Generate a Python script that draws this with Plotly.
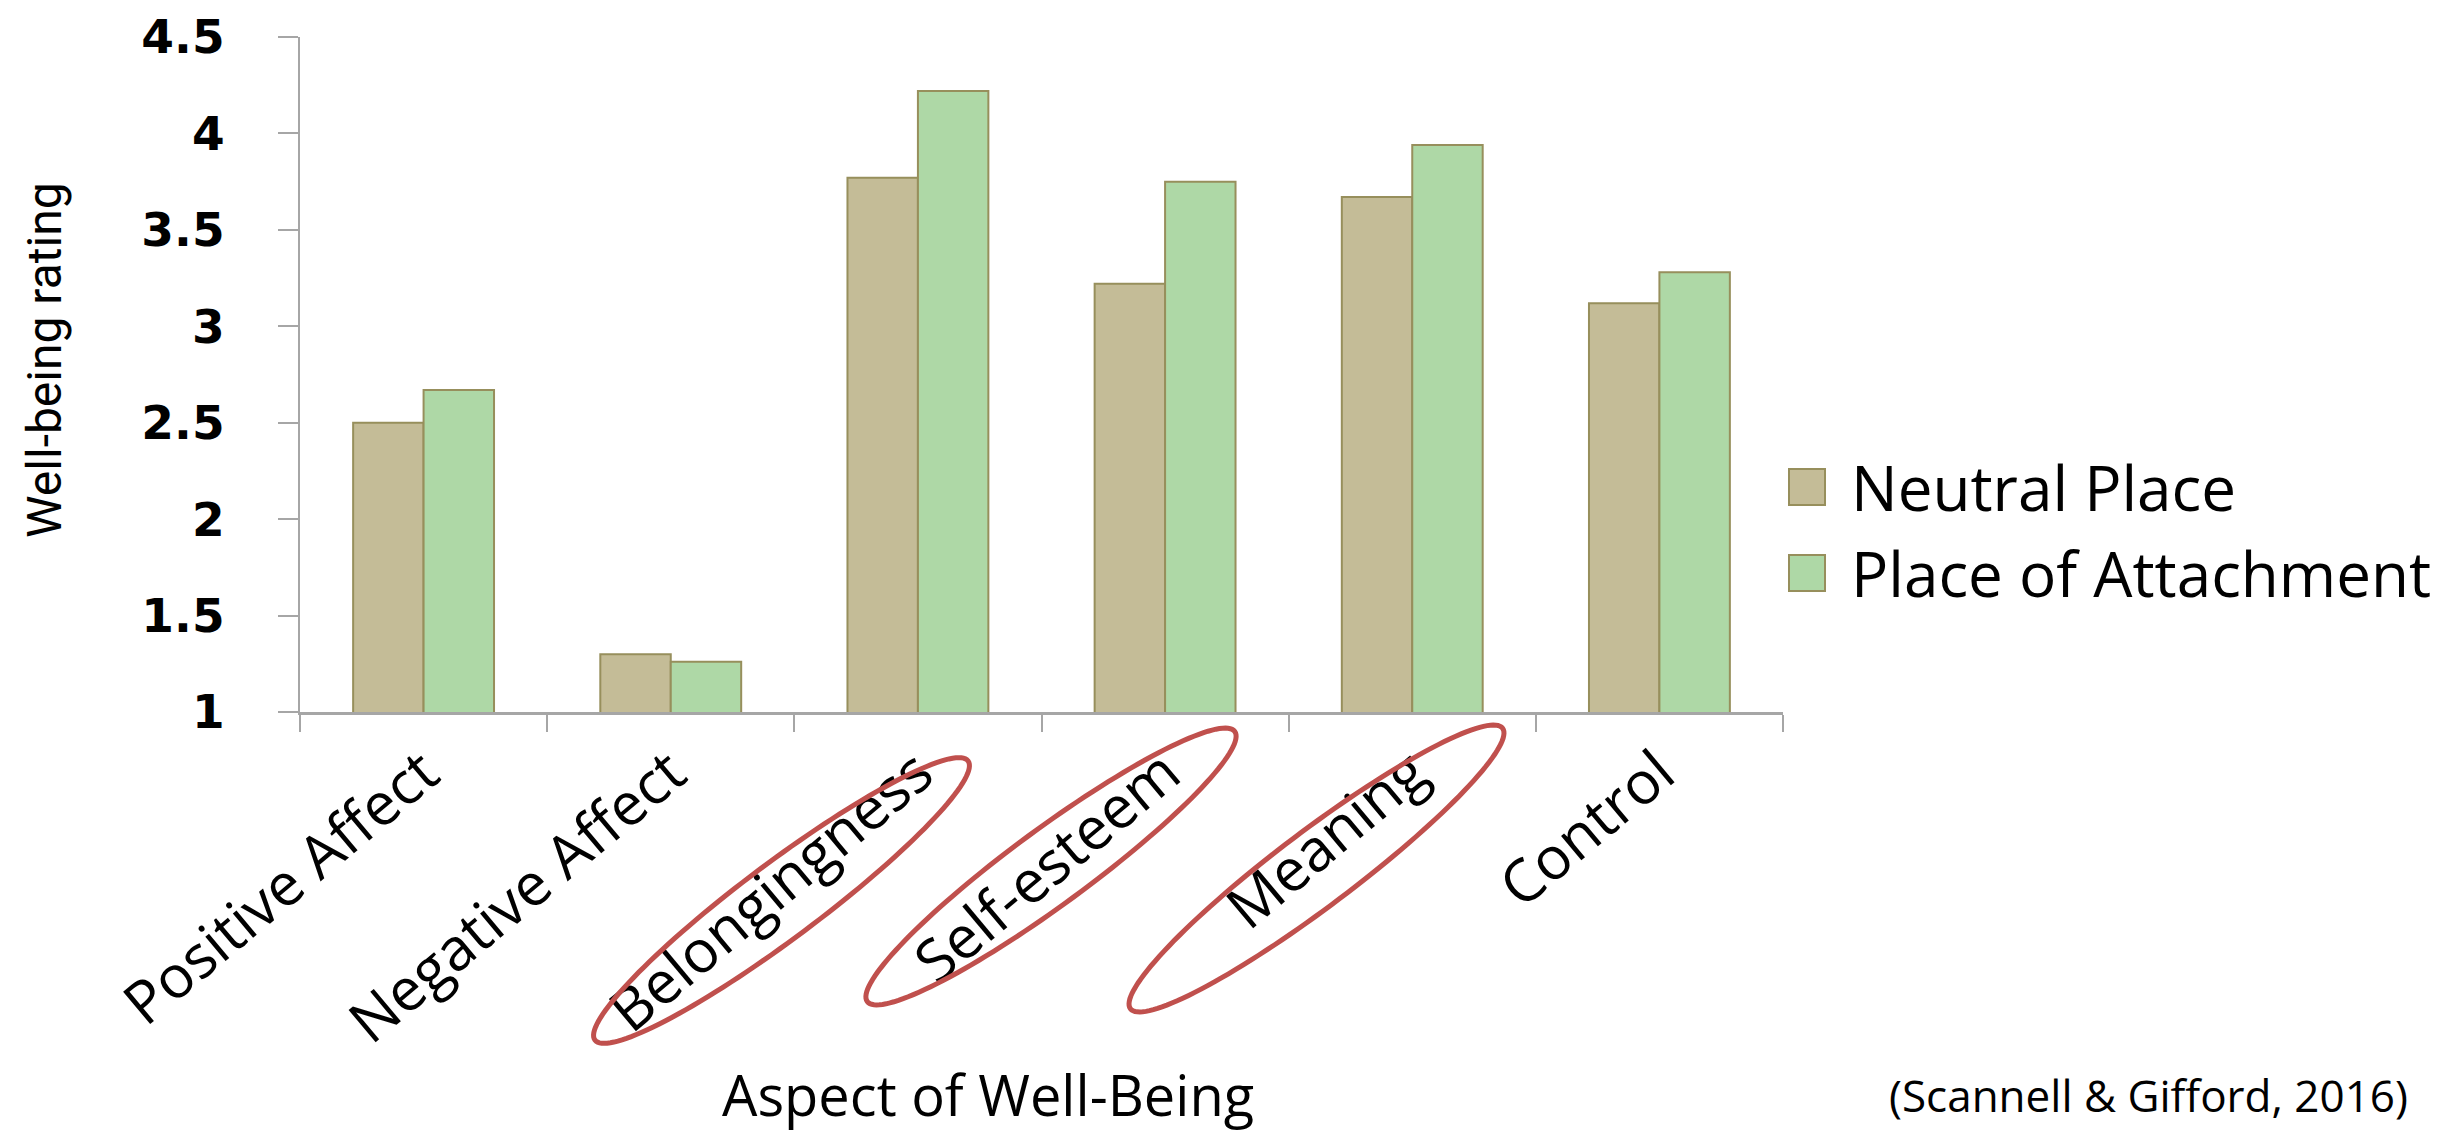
import numpy as np
import plotly.graph_objects as go

# ---------------- data ----------------
categories = ["Positive Affect", "Negative Affect", "Belongingness",
              "Self-esteem", "Meaning", "Control"]
neutral_place = [2.50, 1.30, 3.77, 3.22, 3.67, 3.12]
place_of_attachment = [2.67, 1.26, 4.22, 3.75, 3.94, 3.28]
series_names = ["Neutral Place", "Place of Attachment"]
y_tick_values = [1, 1.5, 2, 2.5, 3, 3.5, 4, 4.5]
highlighted = ["Belongingness", "Self-esteem", "Meaning"]

# ---------------- layout geometry ----------------
OFF = 8                      # page body margin of the html page
W, H = 2453 - OFF, 1131 - OFF
L, T = 300 - OFF, 37 - OFF
R = W - (1783 - OFF)
B = H - (712 - OFF)
PW, PH = W - L - R, H - T - B


def px(x):
    """screen x (reference pixels) -> paper"""
    return (x - OFF - L) / PW


def py(y):
    """screen y (reference pixels) -> paper"""
    return (H - B - (y - OFF)) / PH


NEUTRAL_FILL = "#C4BC97"
ATTACH_FILL = "#AED8A6"
BAR_LINE = "#978F5C"
RED = "#C0504D"
AXIS_GRAY = "#A6A6A6"

fig = go.Figure()
fig.add_trace(go.Bar(x=categories, y=neutral_place, name=series_names[0],
                     marker=dict(color=NEUTRAL_FILL, line=dict(color=BAR_LINE, width=2)),
                     showlegend=False))
fig.add_trace(go.Bar(x=categories, y=place_of_attachment, name=series_names[1],
                     marker=dict(color=ATTACH_FILL, line=dict(color=BAR_LINE, width=2)),
                     showlegend=False))

# ---------------- ellipses (decoration around highlighted labels) ----------------
# (center x, center y, semi-major, semi-minor, angle deg) in screen pixels
ellipse_geo = {
    "Belongingness": (781.5, 900.5, 233, 38, 36.8),
    "Self-esteem": (1051, 866.5, 228, 38, 36.3),
    "Meaning": (1316.5, 868.5, 233, 38, 37.0),
}
shapes = []
t = np.linspace(0, 2 * np.pi, 145)
for name in highlighted:
    cx, cy, a, b, ang = ellipse_geo[name]
    th = np.radians(ang)
    xs = cx + a * np.cos(t) * np.cos(th) + b * np.sin(t) * np.sin(th)
    ys = cy - a * np.cos(t) * np.sin(th) + b * np.sin(t) * np.cos(th)
    path = "M " + " L ".join(f"{px(x):.5f},{py(y):.5f}" for x, y in zip(xs, ys)) + " Z"
    shapes.append(dict(type="path", xref="paper", yref="paper", path=path,
                       line=dict(color=RED, width=5), layer="above"))

# ---------------- manual legend ----------------
legend_rows = [(series_names[0], NEUTRAL_FILL, 487), (series_names[1], ATTACH_FILL, 573)]
annotations = []
for label, col, yc in legend_rows:
    shapes.append(dict(type="rect", xref="paper", yref="paper",
                       x0=px(1789), x1=px(1825), y0=py(yc + 18), y1=py(yc - 18),
                       fillcolor=col, line=dict(color=BAR_LINE, width=2)))
    annotations.append(dict(text=label, xref="paper", yref="paper",
                            x=px(1849), y=py(yc), xanchor="left", yanchor="middle",
                            showarrow=False,
                            font=dict(family="Open Sans", size=62, color="black")))

# axis titles and citation
annotations.append(dict(text="Well-being rating", xref="paper", yref="paper",
                        x=px(44), y=py(360), xanchor="center", yanchor="middle",
                        textangle=-90, showarrow=False,
                        font=dict(family="Liberation Sans Narrow, Arial Narrow, Roboto",
                                  size=48, color="black")))
annotations.append(dict(text="Aspect of Well-Being", xref="paper", yref="paper",
                        x=px(988), y=py(1094), xanchor="center", yanchor="middle",
                        showarrow=False,
                        font=dict(family="Open Sans", size=56, color="black")))
annotations.append(dict(text="(Scannell & Gifford, 2016)", xref="paper", yref="paper",
                        x=px(2410), y=py(1095), xanchor="right", yanchor="middle",
                        showarrow=False,
                        font=dict(family="Open Sans", size=44, color="black")))

fig.update_layout(
    width=W, height=H,
    margin=dict(l=L, r=R, t=T, b=B, autoexpand=False),
    paper_bgcolor="white", plot_bgcolor="white",
    barmode="group", bargap=0.43, bargroupgap=0,
    showlegend=False,
    shapes=shapes, annotations=annotations,
    xaxis=dict(
        type="category", showline=True, linecolor=AXIS_GRAY, linewidth=3,
        ticks="outside", tickson="boundaries", ticklen=17, tickwidth=2,
        tickcolor=AXIS_GRAY, tickangle=-40, showgrid=False, zeroline=False,
        tickfont=dict(family="Open Sans", size=59, color="black"),
    ),
    yaxis=dict(
        range=[1, 4.5], tickmode="array", tickvals=y_tick_values,
        showline=True, linecolor=AXIS_GRAY, linewidth=2,
        ticks="outside", ticklen=20, tickwidth=2, tickcolor=AXIS_GRAY,
        showgrid=False, zeroline=False, ticklabelstandoff=44,
        tickfont=dict(family="DejaVu Sans", size=47, color="black", weight="bold"),
    ),
)

fig.write_html("out.html")
